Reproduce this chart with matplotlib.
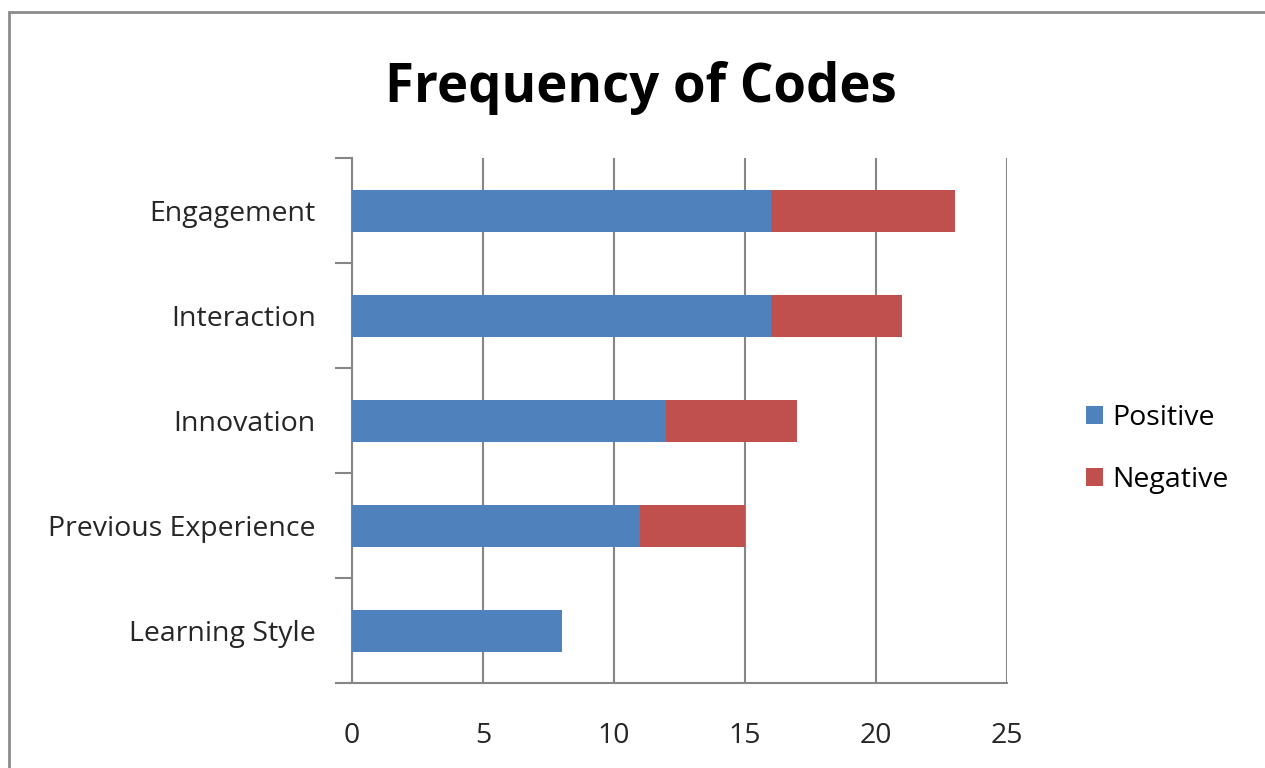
import matplotlib
matplotlib.use("Agg")
import matplotlib.pyplot as plt
from matplotlib.patches import Rectangle

categories = ["Engagement", "Interaction", "Innovation", "Previous Experience", "Learning Style"]
positive = [16, 16, 12, 11, 8]
negative = [7, 5, 5, 4, 0]
xticks = [0, 5, 10, 15, 20, 25]

plt.rcParams['font.family'] = ['Open Sans', 'DejaVu Sans']

fig = plt.figure(figsize=(12.65, 7.68), dpi=100)
fig.patch.set_facecolor('white')
ax = fig.add_axes([352/1265, 1-683/768, (1007-352)/1265, (683-158)/768])

blue = '#4F81BD'
red = '#C0504D'
grid = '#868686'
txt = '#262626'

n = len(categories)
ypos = list(range(n))
ax.barh(ypos, positive, height=0.4, color=blue, label='Positive', zorder=3)
ax.barh(ypos, negative, left=positive, height=0.4, color=red, label='Negative', zorder=3)

ax.set_xlim(0, 25)
ax.set_ylim(n - 0.5, -0.5)
ax.set_xticks(xticks)
ax.set_xticklabels([str(t) for t in xticks], fontsize=20.5, color=txt)
ax.set_yticks(ypos)
ax.set_yticklabels(categories, fontsize=20.5, color=txt)
ax.tick_params(axis='y', length=0, pad=26)
ax.tick_params(axis='x', length=0, pad=28)

# category boundary ticks on y-axis
ax.set_yticks([i - 0.5 for i in range(n + 1)], minor=True)
ax.tick_params(axis='y', which='minor', length=12, color=grid, width=1.5)
ax.set_xticks(xticks, minor=True)
ax.tick_params(axis='x', which='minor', length=9, color=grid, width=1.5)

ax.grid(axis='x', color=grid, linewidth=1.5, zorder=0)
for s in ['top', 'right']:
    ax.spines[s].set_visible(False)
for s in ['left', 'bottom']:
    ax.spines[s].set_color(grid)
    ax.spines[s].set_linewidth(1.5)

fig.text(641/1265, 1-102/768, "Frequency of Codes", ha='center', va='baseline',
         fontsize=38, fontweight='bold', color='black')

ax.legend(loc='center left', bbox_to_anchor=(1060/1265, 1-449/768),
          bbox_transform=fig.transFigure, frameon=False, fontsize=20.5,
          handlelength=0.6, handleheight=0.6, labelspacing=1.2, handletextpad=0.35)

fig.patches.append(Rectangle((9/1265, -0.05), 1.2, 1 - 12/768 + 0.05, transform=fig.transFigure,
                             fill=False, edgecolor='#8c8c8c', linewidth=2))

fig.savefig('out.png', dpi=100, facecolor='white')
